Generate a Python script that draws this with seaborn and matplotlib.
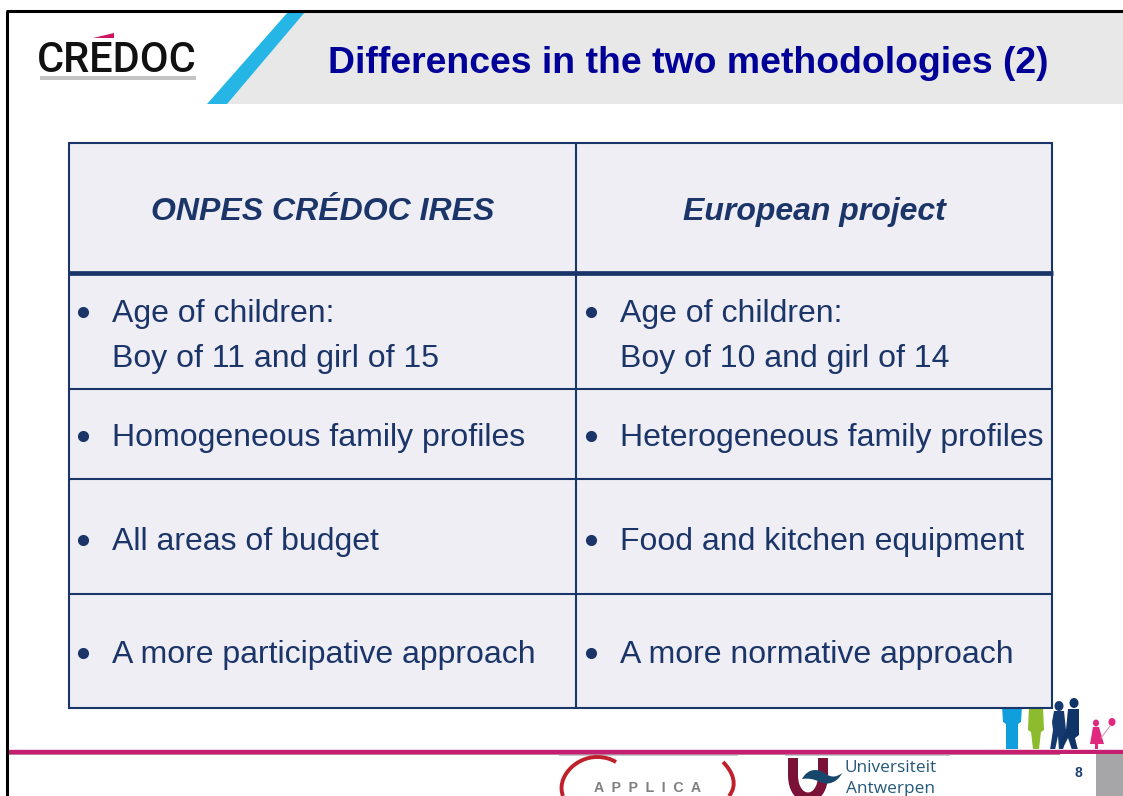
import matplotlib
matplotlib.use("Agg")
import matplotlib.pyplot as plt
from matplotlib.patches import Polygon, Rectangle, Ellipse, PathPatch
from matplotlib.path import Path
import seaborn as sns

title = "Differences in the two methodologies (2)"
headers = ["ONPES CRÉDOC IRES", "European project"]
left_items = [
    ["Age of children:", "Boy of 11 and girl of 15"],
    ["Homogeneous family profiles"],
    ["All areas of budget"],
    ["A more participative approach"],
]
right_items = [
    ["Age of children:", "Boy of 10 and girl of 14"],
    ["Heterogeneous family profiles"],
    ["Food and kitchen equipment"],
    ["A more normative approach"],
]

W, H = 1123, 796
NAVY = "#1a3668"
CELL = "#eeeef4"
TXT = "#1c3568"

sns.set_theme(style="white")
plt.rcParams["font.family"] = ["Liberation Sans", "DejaVu Sans"]

fig = plt.figure(figsize=(W / 100, H / 100), dpi=100)
ax = fig.add_axes([0, 0, 1, 1])
ax.set_xlim(0, W)
ax.set_ylim(H, 0)
ax.axis("off")

M, L, C = Path.MOVETO, Path.LINETO, Path.CURVE4


def curve(points, codes, **kw):
    ax.add_patch(PathPatch(Path(points, codes), **kw))


# header band and slash
ax.add_patch(Polygon([(300, 12), (W, 12), (W, 104), (225, 104)], fc="#e8e8e9", ec="none"))
ax.add_patch(Polygon([(288, 12), (305, 12), (227, 104), (207, 104)], fc="#25b6e6", ec="none"))
ax.text(688.5, 73, title, color="#000099", fontsize=26.9, fontweight="bold", ha="center", va="baseline")

# frame
ax.plot([7, 7], [H, 11], color="black", lw=2.2, solid_capstyle="butt")
ax.plot([6, W], [11, 11], color="black", lw=2.2, solid_capstyle="butt")

# credoc logo
ax.text(37, 72, "CRÉDOC", fontsize=30, fontweight="medium", color="#111111", va="baseline", ha="left",
        family="Roboto")
ax.add_patch(Rectangle((80, 28), 50, 11.5, fc="white", ec="none", zorder=3))
ax.add_patch(Polygon([(93, 38), (114, 33), (114, 38)], fc="#d0145f", ec="none", zorder=4))
ax.add_patch(Rectangle((40, 76), 156, 4, fc="#c4c4c4", ec="none"))

# family figures, the table covers their heads
ax.add_patch(Polygon([(1002, 706), (1022, 706), (1021, 722), (1018, 724), (1018, 749), (1006, 749), (1006, 724), (1003, 722)],
                     fc="#0f9fdc", ec="none"))
ax.add_patch(Polygon([(1029, 706), (1043, 706), (1044, 730), (1041, 732), (1039, 749), (1033, 749), (1031, 732), (1028, 730)],
                     fc="#8dbb2e", ec="none"))
ax.add_patch(Ellipse((1059, 706), 9, 10, fc="#143a70", ec="none"))
ax.add_patch(Polygon([(1054, 711), (1064, 711), (1066, 730), (1063, 750), (1059, 750), (1058, 736), (1055, 750), (1050, 750), (1053, 730), (1052, 722)],
                     fc="#143a70", ec="none"))
ax.add_patch(Ellipse((1074, 703), 9, 10, fc="#0f3468", ec="none"))
ax.add_patch(Polygon([(1068, 709), (1079, 709), (1079, 735), (1075, 738), (1078, 750), (1072, 750), (1068, 738), (1062, 750), (1060, 742), (1066, 730)],
                     fc="#0f3468", ec="none"))
ax.add_patch(Ellipse((1096, 723), 6, 7, fc="#e0287f", ec="none"))
ax.add_patch(Polygon([(1093, 727), (1099, 727), (1104, 744), (1098, 744), (1098, 750), (1095, 750), (1095, 744), (1090, 744)],
                     fc="#e0287f", ec="none"))
ax.plot([1101, 1110], [738, 726], color="#d88ab0", lw=0.7)
ax.add_patch(Ellipse((1112, 722), 7, 8, fc="#e0287f", ec="none"))

# table
xs = [69, 576, 1052]
ys = [143, 273, 389, 479, 594, 708]
ax.add_patch(Rectangle((xs[0], ys[0]), xs[2] - xs[0], ys[-1] - ys[0], fc=CELL, ec="none"))
for y in ys:
    ax.plot([xs[0] - 1, xs[2] + 1], [y, y], color=NAVY, lw=3.4 if y == 273 else 1.5, solid_capstyle="butt")
for x in xs:
    ax.plot([x, x], [ys[0], ys[-1]], color=NAVY, lw=1.5, solid_capstyle="butt")

for i, h in enumerate(headers):
    ax.text((xs[i] + xs[i + 1]) / 2, 220, h, color=TXT, fontsize=23, fontstyle="italic",
            fontweight="bold", ha="center", va="baseline")

baselines = [[322, 367], [446, ], [550, ], [663, ]]
for col, items in enumerate([left_items, right_items]):
    x0 = xs[col]
    for j, lines in enumerate(items):
        ax.plot([x0 + 14 + col], [baselines[j][0] - 10], "o", color=TXT, ms=8, mew=0)
        for line, y in zip(lines, baselines[j]):
            ax.text(x0 + 43 + col, y, line, color=TXT, fontsize=23, ha="left", va="baseline")

# footer line
ax.add_patch(Rectangle((8, 749), W - 8, 1.2, fc="#f5d5e8", ec="none"))
ax.add_patch(Rectangle((8, 750), W - 8, 3.6, fc="#c5206f", ec="none"))
ax.add_patch(Rectangle((8, 753.5), 1052, 1.3, fc="#b77fa0", ec="none"))
ax.add_patch(Rectangle((1096, 754), 27, 42, fc="#a6a6a8", ec="none"))
ax.text(1078, 777, "8", color="#1c3f75", fontsize=10, fontweight="bold", ha="center", va="baseline")

# applica logo
ax.add_patch(Rectangle((559, 755), 179, 1, fc="#c8c8c8", ec="none"))
curve([(563, 796), (556, 778), (575, 757), (597, 757), (605, 757), (611, 759), (616, 762)],
      [M, C, C, C, C, C, C], fc="none", ec="#c0202c", lw=2.8)
curve([(723, 762), (733, 772), (738, 785), (729, 796)], [M, C, C, C], fc="none", ec="#c0202c", lw=2.8)
ax.text(648, 791.5, "A  P  P  L  I  C  A", color="#7f7f7f", fontsize=10.2, fontweight="bold", ha="center", va="baseline")

# antwerp logo
ax.add_patch(Rectangle((785, 755), 165, 1, fc="#c8c8c8", ec="none"))
curve([(793, 758), (793, 775), (793, 805), (823, 805), (823, 775), (823, 758)],
      [M, L, C, C, C, L], fc="none", ec="#7a1238", lw=7.2)
curve([(802, 779), (808, 768), (818, 768), (826, 774), (832, 778), (837, 777), (842, 773),
       (838, 782), (828, 786), (820, 782), (814, 779), (808, 778), (802, 779)],
      [M, C, C, C, C, C, C, C, C, C, C, C, C], fc="#17486b", ec="none")
ax.text(845, 772, "Universiteit", color="#24587a", fontsize=12.4, ha="left", va="baseline", family="Open Sans")
ax.text(846, 793, "Antwerpen", color="#24587a", fontsize=12.4, ha="left", va="baseline", family="Open Sans")

fig.savefig("out.png", dpi=100)
